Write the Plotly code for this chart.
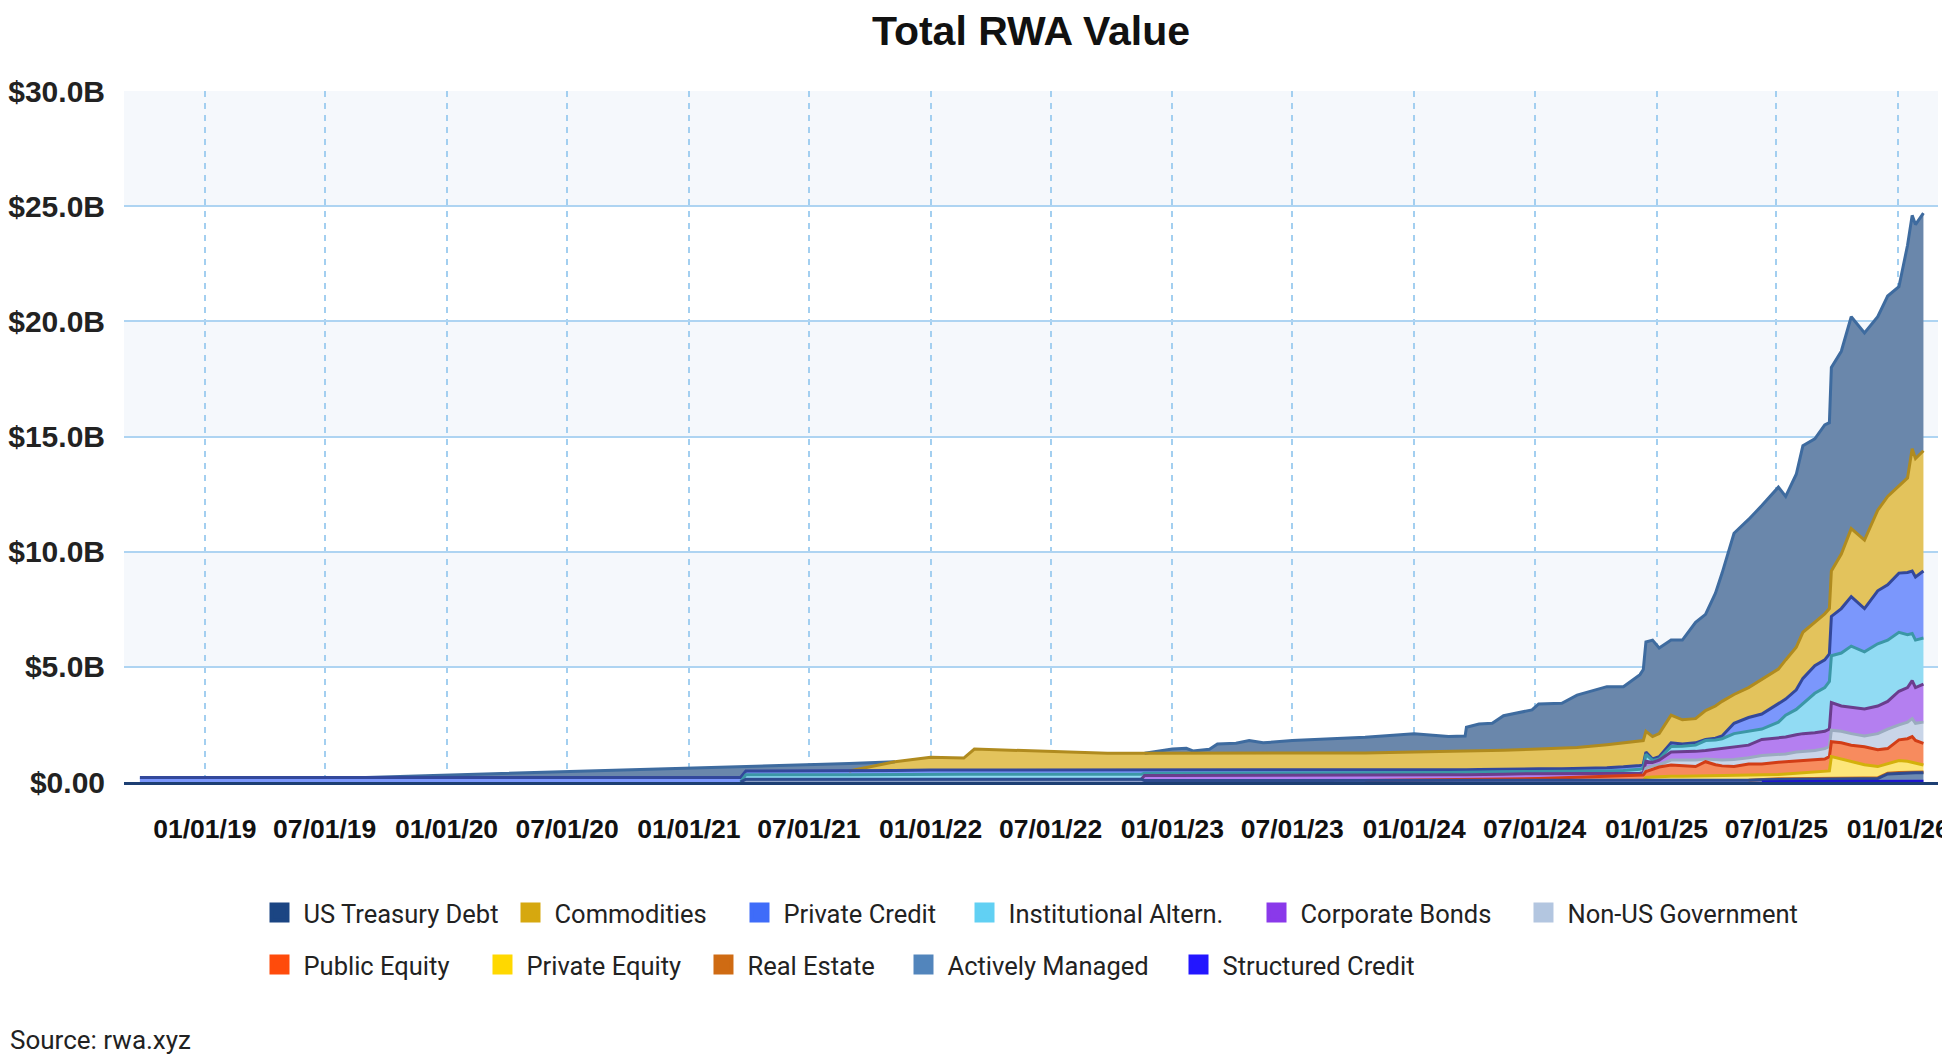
import numpy as np
import plotly.graph_objects as go

# ---------------- data (values in $ billions) ----------------
dates = [
    "2018-09-25", "2019-09-01", "2020-10-01", "2021-03-20", "2021-03-28", "2021-08-31", "2021-11-08", "2022-01-01", "2022-02-20", "2022-03-08",
    "2022-07-01", "2022-09-25", "2022-11-15", "2022-11-20", "2023-01-01", "2023-01-22", "2023-02-01", "2023-02-26", "2023-03-10", "2023-04-07",
    "2023-04-27", "2023-05-18", "2023-07-01", "2023-10-19", "2024-01-01", "2024-02-22", "2024-03-18", "2024-03-20", "2024-04-08", "2024-04-28",
    "2024-05-15", "2024-06-27", "2024-07-07", "2024-08-11", "2024-09-03", "2024-10-18", "2024-11-12", "2024-12-07", "2024-12-12", "2024-12-16",
    "2024-12-26", "2025-01-05", "2025-01-23", "2025-02-09", "2025-03-01", "2025-03-16", "2025-03-31", "2025-04-10", "2025-04-28", "2025-05-20",
    "2025-06-09", "2025-07-04", "2025-07-15", "2025-07-31", "2025-08-10", "2025-08-28", "2025-09-12", "2025-09-19", "2025-09-22", "2025-10-07",
    "2025-10-22", "2025-11-11", "2025-12-01", "2025-12-16", "2026-01-02", "2026-01-15", "2026-01-22", "2026-01-27", "2026-02-08",
]

us_treasury_debt = [
    0, 0, 0.33, 0.45, 0.20, 0.32, 0, 0, 0, 0,
    0, 0, 0, 0, 0.18, 0.21, 0.10, 0.17, 0.40, 0.43,
    0.55, 0.45, 0.55, 0.68, 0.79, 0.65, 0.67, 1.05, 1.17, 1.18,
    1.50, 1.71, 1.96, 1.97, 2.27, 2.52, 2.44, 2.88, 3.08, 3.88,
    4.19, 3.72, 3.26, 3.46, 4.18, 4.18, 4.90, 5.57, 7.00, 7.30,
    7.55, 7.90, 7.10, 7.51, 8.10, 7.97, 8.20, 8.07, 8.84, 8.80,
    9.20, 9.00, 8.40, 8.70, 8.66, 10.10, 10.13, 10.16, 10.32,
]
commodities = [
    0, 0, 0, 0, 0, 0, 0.38, 0.55, 0.52, 0.91,
    0.80, 0.73, 0.75, 0.75, 0.75, 0.75, 0.75, 0.75, 0.75, 0.75,
    0.75, 0.75, 0.75, 0.76, 0.79, 0.80, 0.80, 0.80, 0.81, 0.83,
    0.83, 0.85, 0.86, 0.87, 0.91, 1.00, 1.04, 1.06, 1.03, 0.90,
    0.97, 1.00, 1.20, 1.05, 1.05, 1.25, 1.40, 1.50, 1.25, 1.30,
    1.50, 1.50, 1.70, 1.85, 2.00, 1.88, 2.00, 1.97, 1.97, 2.37,
    2.95, 2.97, 3.50, 3.84, 3.77, 4.10, 5.31, 5.14, 5.22,
]
private_credit = [
    0.20, 0.20, 0.20, 0.20, 0.16, 0.16, 0.16, 0.18, 0.18, 0.18,
    0.18, 0.18, 0.16, 0.12, 0.12, 0.12, 0.12, 0.12, 0.12, 0.12,
    0.12, 0.12, 0.12, 0.12, 0.11, 0.11, 0.11, 0.11, 0.11, 0.11,
    0.11, 0.11, 0.11, 0.12, 0.12, 0.14, 0.16, 0.17, 0.17, 0.10,
    0.06, 0.10, 0.16, 0.10, 0.10, 0.05, 0.08, 0.12, 0.45, 0.60,
    0.65, 0.80, 0.70, 0.85, 1.10, 1.20, 1.20, 1.19, 1.71, 1.93,
    2.15, 1.88, 2.30, 2.40, 2.57, 2.70, 2.71, 2.74, 2.91,
]
institutional_altern = [
    0, 0, 0, 0, 0.20, 0.20, 0.22, 0.22, 0.22, 0.22,
    0.22, 0.22, 0.22, 0.10, 0.10, 0.10, 0.10, 0.10, 0.10, 0.10,
    0.10, 0.10, 0.10, 0.10, 0.10, 0.10, 0.10, 0.10, 0.10, 0.10,
    0.10, 0.10, 0.10, 0.10, 0.11, 0.12, 0.13, 0.17, 0.20, 0.30,
    0.09, 0.05, 0.24, 0.25, 0.27, 0.43, 0.40, 0.43, 0.56, 0.60,
    0.45, 0.70, 0.95, 1.10, 1.30, 1.71, 1.90, 2.07, 2.03, 2.30,
    2.65, 2.48, 2.70, 2.66, 2.56, 2.30, 2.05, 2.06, 2.00,
]
corporate_bonds = [
    0, 0, 0, 0, 0, 0, 0, 0, 0, 0,
    0, 0, 0, 0.22, 0.22, 0.22, 0.22, 0.22, 0.22, 0.22,
    0.22, 0.22, 0.22, 0.22, 0.22, 0.22, 0.22, 0.22, 0.22, 0.22,
    0.22, 0.21, 0.21, 0.18, 0.16, 0.10, 0.09, 0.08, 0.10, 0.30,
    0.15, 0.20, 0.35, 0.35, 0.38, 0.37, 0.45, 0.49, 0.56, 0.55,
    0.70, 0.70, 0.73, 0.75, 0.77, 0.77, 0.75, 0.76, 1.20, 1.10,
    1.15, 1.17, 1.20, 1.20, 1.46, 1.50, 1.65, 1.55, 1.65,
]
non_us_government = [
    0, 0, 0, 0, 0, 0, 0, 0, 0, 0,
    0, 0, 0, 0, 0, 0, 0, 0, 0, 0,
    0, 0, 0, 0, 0, 0, 0, 0, 0, 0,
    0, 0, 0, 0, 0, 0, 0, 0, 0, 0.15,
    0.15, 0.10, 0.21, 0.23, 0.28, 0.12, 0.22, 0.26, 0.31, 0.27,
    0.37, 0.34, 0.34, 0.40, 0.41, 0.42, 0.45, 0.44, 0.50, 0.50,
    0.50, 0.47, 0.70, 0.85, 0.65, 0.72, 0.78, 0.75, 0.92,
]
public_equity = [
    0, 0, 0, 0, 0, 0, 0, 0, 0, 0,
    0, 0, 0, 0, 0, 0, 0, 0, 0, 0,
    0, 0, 0, 0, 0.02, 0.03, 0.04, 0.04, 0.05, 0.05,
    0.06, 0.09, 0.09, 0.12, 0.14, 0.20, 0.22, 0.24, 0.24, 0.25,
    0.33, 0.41, 0.49, 0.47, 0.41, 0.62, 0.49, 0.44, 0.40, 0.50,
    0.48, 0.53, 0.53, 0.52, 0.52, 0.53, 0.55, 0.62, 0.65, 0.70,
    0.70, 0.78, 0.73, 0.65, 0.90, 0.98, 1.12, 1.00, 0.94,
]
private_equity = [
    0, 0, 0, 0, 0, 0, 0, 0, 0, 0,
    0, 0, 0, 0, 0, 0, 0, 0, 0, 0,
    0, 0, 0, 0, 0, 0, 0, 0, 0, 0,
    0, 0, 0, 0, 0, 0, 0, 0, 0, 0.14,
    0.16, 0.18, 0.19, 0.19, 0.20, 0.20, 0.20, 0.20, 0.21, 0.20,
    0.18, 0.19, 0.21, 0.24, 0.26, 0.28, 0.31, 0.34, 0.95, 0.85,
    0.75, 0.58, 0.49, 0.42, 0.52, 0.49, 0.42, 0.37, 0.31,
]
real_estate = [
    0, 0, 0, 0, 0, 0, 0, 0, 0, 0,
    0, 0, 0, 0, 0, 0, 0, 0, 0, 0,
    0, 0, 0, 0, 0, 0, 0, 0, 0, 0,
    0, 0, 0, 0, 0, 0, 0, 0, 0, 0,
    0, 0, 0, 0, 0, 0, 0, 0, 0, 0,
    0.02, 0.02, 0.02, 0.02, 0.02, 0.02, 0.02, 0.02, 0.03, 0.03,
    0.03, 0.03, 0.03, 0.03, 0.03, 0.03, 0.03, 0.03, 0.03,
]
actively_managed = [
    0, 0, 0, 0, 0.12, 0.12, 0.12, 0.12, 0.12, 0.12,
    0.12, 0.12, 0.12, 0.06, 0.06, 0.06, 0.06, 0.06, 0.06, 0.06,
    0.06, 0.06, 0.06, 0.06, 0.06, 0.06, 0.06, 0.06, 0.06, 0.06,
    0.06, 0.06, 0.06, 0.06, 0.06, 0.06, 0.06, 0.06, 0.06, 0.06,
    0.06, 0.06, 0.06, 0.06, 0.06, 0.06, 0.06, 0.06, 0.06, 0.08,
    0.10, 0.10, 0.10, 0.10, 0.10, 0.10, 0.10, 0.10, 0.10, 0.10,
    0.10, 0.12, 0.13, 0.32, 0.35, 0.35, 0.37, 0.37, 0.37,
]
structured_credit = [
    0, 0, 0, 0, 0, 0, 0, 0, 0, 0,
    0, 0, 0, 0, 0, 0, 0, 0, 0, 0,
    0, 0, 0, 0, 0, 0, 0, 0, 0, 0,
    0, 0, 0, 0, 0, 0, 0, 0, 0, 0,
    0, 0, 0, 0, 0, 0, 0, 0, 0, 0,
    0, 0.02, 0.02, 0.02, 0.02, 0.02, 0.02, 0.02, 0.02, 0.02,
    0.02, 0.02, 0.02, 0.03, 0.03, 0.03, 0.03, 0.03, 0.03,
]

series_names = [
    "US Treasury Debt", "Commodities", "Private Credit", "Institutional Altern.",
    "Corporate Bonds", "Non-US Government", "Public Equity", "Private Equity",
    "Real Estate", "Actively Managed", "Structured Credit",
]
series_values = [
    us_treasury_debt, commodities, private_credit, institutional_altern,
    corporate_bonds, non_us_government, public_equity, private_equity,
    real_estate, actively_managed, structured_credit,
]

x_tick_vals = [
    "2019-01-01", "2019-07-01", "2020-01-01", "2020-07-01", "2021-01-01",
    "2021-07-01", "2022-01-01", "2022-07-01", "2023-01-01", "2023-07-01",
    "2024-01-01", "2024-07-01", "2025-01-01", "2025-07-01", "2026-01-01",
]
x_tick_text = [
    "01/01/19", "07/01/19", "01/01/20", "07/01/20", "01/01/21",
    "07/01/21", "01/01/22", "07/01/22", "01/01/23", "07/01/23",
    "01/01/24", "07/01/24", "01/01/25", "07/01/25", "01/01/26",
]
y_tick_vals = [0, 5, 10, 15, 20, 25, 30]
y_tick_text = ["$0.00", "$5.0B", "$10.0B", "$15.0B", "$20.0B", "$25.0B", "$30.0B"]

# ---------------- styles ----------------
legend_colors = ["#1b4583", "#d6a80f", "#3f6cf9", "#61d0f3", "#8a39ea", "#b3c6e0",
                 "#ff4b0b", "#ffd800", "#cf6b13", "#5285bc", "#2316ff"]
fill_colors = ["#6a87ab", "#e3c35c", "#7b97fc", "#91dbf3", "#b47ff0", "#c9d5e8",
               "#f78b5e", "#fde67a", "#e39d5e", "#6d8bb2", "#6e6aff"]
line_colors = ["#3e6b9f", "#b08b1f", "#33489b", "#3b97a6", "#6a3d8d", "#9aabbf",
               "#d23d16", "#d3b10b", "#c0661a", "#2e4b8f", "#1c16cc"]

# legend layout: (legend id, x position in paper units, row y in paper units)
legend_slots = [
    ("legend", 0.07249, -0.18958), ("legend2", 0.21086, -0.18958),
    ("legend3", 0.33710, -0.18958), ("legend4", 0.46114, -0.18958),
    ("legend5", 0.62211, -0.18958), ("legend6", 0.76929, -0.18958),
    ("legend7", 0.07249, -0.26483), ("legend8", 0.19542, -0.26483),
    ("legend9", 0.31725, -0.26483), ("legend10", 0.42751, -0.26483),
    ("legend11", 0.57911, -0.26483),
]

TEXT_FONT = "Liberation Sans, Arial, sans-serif"
LEGEND_FONT = "Roboto, Noto Sans, sans-serif"

fig = go.Figure()

n = len(series_names)
# stacked fills (first added = bottom of stack)
for i in reversed(range(n)):
    fig.add_trace(go.Scatter(
        x=dates, y=series_values[i], stackgroup="rwa", mode="lines",
        line=dict(width=0, color=fill_colors[i]), fillcolor=fill_colors[i],
        showlegend=False, hoverinfo="skip",
    ))

# outline of each layer, drawn where the layer exists
arr = np.array(series_values, dtype=float)
tops = np.cumsum(arr[::-1], axis=0)[::-1]
for i in range(n):
    v = arr[i]
    y = []
    for k in range(len(dates)):
        present = v[k] > 0 or (k > 0 and v[k - 1] > 0) or (k < len(dates) - 1 and v[k + 1] > 0)
        y.append(float(tops[i][k]) if present else None)
    fig.add_trace(go.Scatter(
        x=dates, y=y, mode="lines", connectgaps=False,
        line=dict(width=3, color=line_colors[i]),
        showlegend=False, hoverinfo="skip",
    ))

# legend entries
for i in range(n):
    fig.add_trace(go.Scatter(
        x=[None], y=[None], mode="markers", name=series_names[i],
        marker=dict(symbol="square", size=16, color=legend_colors[i],
                    line=dict(width=4, color=legend_colors[i])),
        legend=legend_slots[i][0],
    ))

# alternating plot bands
for lo, hi in [(25, 30), (15, 20), (5, 10)]:
    fig.add_shape(type="rect", xref="paper", yref="y", x0=0, x1=1, y0=lo, y1=hi,
                  fillcolor="#f5f8fc", line_width=0, layer="below")

legend_layouts = {}
for lid, lx, ly in legend_slots:
    legend_layouts[lid] = dict(
        x=lx, y=ly, orientation="h", xanchor="left", yanchor="middle",
        font=dict(family=LEGEND_FONT, size=25.5, color="#222222"),
        bgcolor="rgba(0,0,0,0)", borderwidth=0, itemwidth=38,
    )

fig.update_layout(
    template="none",
    width=1942, height=1047,
    margin=dict(l=116, r=12, t=83, b=273, autoexpand=False),
    paper_bgcolor="white", plot_bgcolor="white",
    title=dict(
        text="Total RWA Value", x=0.5, xref="paper", xanchor="center",
        y=1 - 23 / 1047, yref="container", yanchor="middle",
        font=dict(family=TEXT_FONT, size=41, color="#111111", weight="bold"),
    ),
    xaxis=dict(
        type="date", range=["2018-09-01", "2026-03-02"], automargin=False,
        tickmode="array", tickvals=x_tick_vals, ticktext=x_tick_text,
        showgrid=True, gridcolor="#a3cff0", gridwidth=2, griddash="6px,6px",
        ticks="", ticklabelstandoff=21,
        tickfont=dict(family=TEXT_FONT, size=26.5, color="#111111", weight="bold"),
        showline=True, linecolor="#1d3f73", linewidth=3, zeroline=False,
    ),
    yaxis=dict(
        range=[0, 30], automargin=False,
        tickmode="array", tickvals=y_tick_vals, ticktext=y_tick_text,
        showgrid=True, gridcolor="#aed4f2", gridwidth=2, ticks="",
        ticklabelstandoff=18,
        tickfont=dict(family=TEXT_FONT, size=30, color="#222222", weight="bold"),
        zeroline=False, showline=False,
    ),
    annotations=[dict(
        text="Source: rwa.xyz", xref="paper", yref="paper",
        x=-116 / 1814, y=-0.37337, xanchor="left", yanchor="middle",
        showarrow=False, font=dict(family=LEGEND_FONT, size=26, color="#222222"),
    )],
    hovermode=False,
    **legend_layouts,
)

fig.write_html("out.html")
